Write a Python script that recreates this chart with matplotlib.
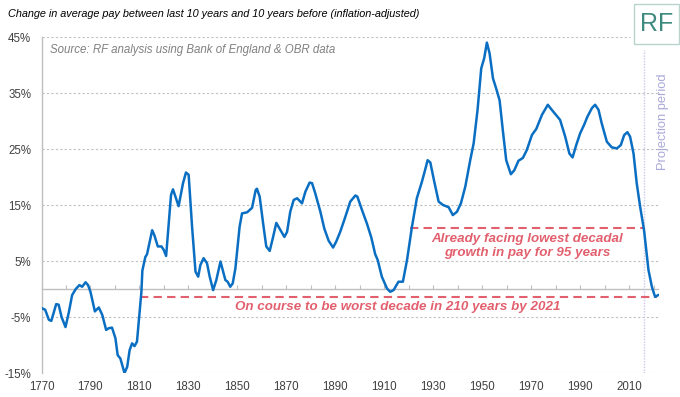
import matplotlib
matplotlib.use("Agg")
import matplotlib.pyplot as plt
from matplotlib.patches import Rectangle

plt.rcParams["font.family"] = ["Liberation Sans", "DejaVu Sans"]

years = [1770, 1771.5, 1773, 1774, 1776, 1777, 1778.2, 1779.8, 1781.1, 1782.5,
         1784, 1785.5, 1786.6, 1788, 1789, 1790, 1791.8, 1793.4, 1794.8, 1796.4,
         1797.5, 1798.8, 1800.2, 1801.1, 1802.2, 1803.9, 1805, 1806, 1807, 1808,
         1809, 1810.8, 1811.2, 1812.4, 1813.1, 1815.2, 1816.1, 1817.5, 1819, 1819.9,
         1820.9, 1822.9, 1823.7, 1826, 1827.8, 1829, 1830.1, 1831.5, 1832.9, 1834,
         1834.9, 1836.2, 1837.6, 1838.7, 1840.1, 1841.4, 1843.1, 1844.2, 1845.1, 1846,
         1847.1, 1848.1, 1849.2, 1850.9, 1851.9, 1854, 1856, 1857.5, 1858, 1859.1,
         1860.7, 1861.8, 1863.2, 1864.6, 1865.9, 1867.6, 1869.2, 1870.3, 1871.6, 1873,
         1874.4, 1876.4, 1877.8, 1879.5, 1880.5, 1881.8, 1883.9, 1885.5, 1887.3, 1889.1,
         1890.4, 1892, 1894.1, 1896.1, 1898.2, 1899, 1900.9, 1902.9, 1904.7, 1906.3,
         1907.3, 1909, 1911.1, 1912.4, 1913.8, 1915.8, 1917.6, 1919.3, 1921.3, 1923.3,
         1925.4, 1926.7, 1927.7, 1928.8, 1930.4, 1932.2, 1934, 1936.3, 1938, 1939.7,
         1941.3, 1943.1, 1945.1, 1946.5, 1948.1, 1949.6, 1950.8, 1951.9, 1953, 1954.4,
         1955.7, 1957.1, 1958.4, 1959.8, 1961.7, 1963.1, 1964.8, 1966.6, 1968.2, 1970.3,
         1972.1, 1974.4, 1976.8, 1978.4, 1980.5, 1981.8, 1983.9, 1985.6, 1986.9, 1988.4,
         1990, 1991.6, 1993, 1994.8, 1996.1, 1997.5, 1998.8, 2000.9, 2002.9, 2005,
         2006.6, 2008, 2009.3, 2010.4, 2011.8, 2013.1, 2014.5, 2016.1, 2017.9, 2019.3,
         2020.6, 2021.8]
pay_change = [-3.4, -3.7, -5.5, -5.7, -2.7, -2.8, -5.0, -6.8, -4.3, -1.1,
              0.0, 0.7, 0.4, 1.2, 0.7, -0.5, -4.0, -3.3, -4.6, -7.3,
              -7.0, -6.9, -8.8, -11.8, -12.4, -15.0, -13.9, -10.9, -9.7, -10.2,
              -9.4, -0.5, 3.3, 5.7, 6.2, 10.5, 9.6, 7.6, 7.6, 7.0,
              5.9, 16.8, 17.8, 14.8, 18.9, 20.8, 20.4, 11.1, 3.1, 2.2,
              4.3, 5.5, 4.6, 2.2, -0.2, 1.6, 4.9, 3.1, 1.6, 1.3,
              0.4, 1.0, 3.7, 11.1, 13.5, 13.7, 14.5, 17.7, 17.9, 16.5,
              11.1, 7.6, 6.8, 9.3, 11.8, 10.5, 9.3, 10.2, 13.8, 15.9,
              16.2, 15.3, 17.4, 19.0, 18.9, 17.1, 13.8, 10.8, 8.6, 7.4,
              8.5, 10.2, 12.9, 15.6, 16.7, 16.5, 14.1, 11.7, 9.2, 6.2,
              5.2, 2.2, 0.1, -0.5, -0.2, 1.3, 1.3, 5.2, 11.1, 16.2,
              19.2, 21.3, 23.0, 22.6, 19.2, 15.6, 15.0, 14.6, 13.2, 13.8,
              15.3, 18.3, 23.0, 26.0, 32.0, 39.4, 41.2, 44.0, 42.1, 37.6,
              35.8, 33.7, 28.4, 23.0, 20.5, 21.2, 22.9, 23.4, 24.8, 27.5,
              28.6, 31.1, 32.9, 32.0, 30.9, 30.2, 27.2, 24.2, 23.5, 25.7,
              27.8, 29.3, 30.8, 32.3, 32.9, 32.0, 29.6, 26.3, 25.3, 25.1,
              25.7, 27.5, 28.0, 27.2, 24.2, 18.9, 14.7, 10.5, 3.4, 0.4,
              -1.4, -1.1]

y_ticks = [45, 35, 25, 15, 5, -5, -15]
x_labels = list(range(1770, 2011, 20))

# reference levels
lowest_95 = 10.9        # lowest decadal growth in 95 years
lowest_95_from = 1920.6
worst_210 = -1.4        # worst decade in 210 years
worst_210_from = 1810.4
projection_start = 2016

blue = "#0A6FC2"
red = "#E2606E"
grey = "#404040"
purple = "#C8C8EA"

fig = plt.figure(figsize=(6.8, 3.97), dpi=100)
ax = fig.add_axes([41.5 / 680, 1 - 373 / 397, (658.5 - 41.5) / 680, 336 / 397])
ax.set_xlim(1770, 2022)
ax.set_ylim(-15, 45)

# grid
for v in y_ticks:
    xmax = 0.954 if v == 45 else 1.0
    ax.axhline(v, xmax=xmax, color="#BFBFBF", lw=0.8, ls=(0, (2, 2)), zorder=1)

ax.set_yticks(y_ticks)
ax.set_yticklabels([f"{v}%" for v in y_ticks])
ax.set_xticks(x_labels)
ax.tick_params(axis="both", length=0, labelsize=8.3, labelcolor=grey)
ax.tick_params(axis="y", pad=7.5)
ax.tick_params(axis="x", pad=6)
for s in ["top", "right", "bottom"]:
    ax.spines[s].set_visible(False)
ax.spines["left"].set_color("#BFBFBF")
ax.spines["left"].set_linewidth(1.0)

# zero axis with decade ticks
zero = ax.secondary_xaxis(15 / 60)
zero.set_xticks(list(range(1770, 2021, 10)))
zero.set_xticklabels([])
zero.tick_params(direction="in", length=3, color="#BFBFBF", width=0.8)
zero.spines["bottom"].set_color("#BFBFBF")
zero.spines["bottom"].set_linewidth(1.0)

# projection period
ax.axvline(projection_start, ymin=0, ymax=0.96, color=purple, lw=1.0, ls=(0, (1, 1)), zorder=1)
ax.text(projection_start + 8, 29.8, "Projection period", rotation=90, ha="center", va="center",
        fontsize=9.3, color="#A9A9D9")

# reference lines
ax.hlines(lowest_95, lowest_95_from, projection_start, color=red, lw=1.5, ls=(0, (4, 2.5)), zorder=2)
ax.hlines(worst_210, worst_210_from, 2021.5, color=red, lw=1.5, ls=(0, (4, 2.5)), zorder=2)

ax.plot(years, pay_change, color=blue, lw=1.8, zorder=3, solid_joinstyle="round")

ax.text(1968.2, 7.7, "Already facing lowest decadal\ngrowth in pay for 95 years", ha="center", va="center",
        fontsize=9.6, color=red, fontweight="bold", fontstyle="italic", linespacing=1.3)
ax.text(1915.7, -3.2, "On course to be worst decade in 210 years by 2021", ha="center", va="center",
        fontsize=9.6, color=red, fontweight="bold", fontstyle="italic")

fig.text(8 / 680, 1 - 14 / 397, "Change in average pay between last 10 years and 10 years before (inflation-adjusted)",
         ha="left", va="center", fontsize=7.8, fontstyle="italic", color="black")
ax.text(1773.5, 42.6, "Source: RF analysis using Bank of England & OBR data", ha="left", va="center",
        fontsize=8.3, fontstyle="italic", color="#808080")

# RF logo
fig.patches.append(Rectangle((634 / 680, 1 - 44 / 397), 45 / 680, 40 / 397, transform=fig.transFigure,
                             fill=False, edgecolor="#B9D3CE", lw=1.0))
fig.text(656.5 / 680, 1 - 24 / 397, "RF", ha="center", va="center", fontsize=18, color="#3E8A7E")

fig.savefig("out.png", dpi=100)
